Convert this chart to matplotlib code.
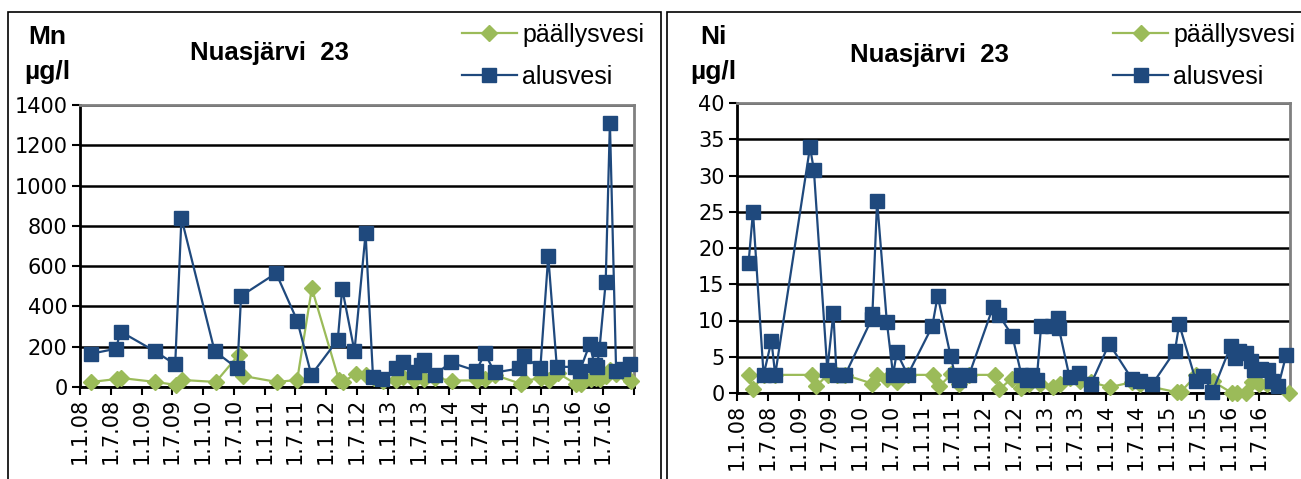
import pandas as pd
import matplotlib.pyplot as plt
import matplotlib.dates as mdates
from matplotlib.patches import Rectangle
from matplotlib.ticker import FuncFormatter

# tick labels in the wider DejaVu face, other texts in Liberation Sans
plt.rcParams['font.family'] = ['DejaVu Sans']
TXT = ['Liberation Sans', 'DejaVu Sans']

# Mn, Nuasjärvi 23
mn_ala_dates = ["2008-03-07", "2008-08-01", "2008-08-29", "2009-03-20", "2009-07-19", "2009-08-25",
                "2010-03-10", "2010-07-23", "2010-08-14", "2011-03-10", "2011-07-13", "2011-10-05",
                "2012-03-10", "2012-04-05", "2012-06-17", "2012-08-22", "2012-10-05", "2012-11-29",
                "2013-02-17", "2013-04-02", "2013-06-07", "2013-07-17", "2013-08-04", "2013-10-05",
                "2014-01-08", "2014-06-10", "2014-07-31", "2014-09-27", "2015-02-21", "2015-03-18",
                "2015-06-25", "2015-08-11", "2015-10-01", "2016-01-15", "2016-02-14", "2016-04-13",
                "2016-05-12", "2016-05-26", "2016-06-10", "2016-07-17", "2016-08-11", "2016-09-17",
                "2016-10-27", "2016-12-10"]
mn_ala = [165, 190, 275, 178, 112, 838, 178, 92, 452, 565, 330, 60,
          235, 488, 178, 763, 50, 38, 95, 122, 72, 108, 135, 58,
          122, 80, 168, 72, 92, 155, 92, 650, 100, 100, 80, 212,
          110, 100, 188, 520, 1313, 78, 88, 115]

mn_pal_dates = ["2008-03-07", "2008-08-10", "2008-08-29", "2009-03-24", "2009-07-26", "2009-08-28",
                "2010-03-17", "2010-07-31", "2010-08-25", "2011-03-14", "2011-07-13", "2011-10-08",
                "2012-03-17", "2012-04-09", "2012-06-25", "2012-08-25", "2012-10-08", "2012-12-03",
                "2013-02-17", "2013-04-02", "2013-06-07", "2013-08-04", "2013-10-05", "2014-01-15",
                "2014-06-14", "2014-07-31", "2014-09-27", "2015-03-04", "2015-03-22", "2015-06-29",
                "2015-08-15", "2015-10-05", "2016-01-22", "2016-02-21", "2016-04-20", "2016-05-19",
                "2016-06-13", "2016-07-20", "2016-08-11", "2016-09-17", "2016-10-27", "2016-12-17"]
mn_pal = [25, 40, 45, 25, 10, 35, 25, 160, 55, 25, 35, 490,
          35, 25, 65, 58, 45, 32, 35, 48, 35, 38, 45, 32,
          33, 38, 60, 15, 30, 45, 33, 70, 15, 17, 38, 45,
          38, 55, 85, 65, 72, 30]

# Ni, Nuasjärvi 23
ni_ala_dates = ["2008-03-10", "2008-04-05", "2008-06-07", "2008-07-24", "2008-08-15", "2009-03-10",
                "2009-04-02", "2009-06-21", "2009-07-27", "2009-08-15", "2009-10-05", "2010-03-12",
                "2010-03-16", "2010-04-13", "2010-06-10", "2010-07-17", "2010-08-08", "2010-10-12",
                "2011-03-07", "2011-04-08", "2011-06-24", "2011-07-20", "2011-08-11", "2011-10-12",
                "2012-03-03", "2012-04-05", "2012-06-25", "2012-08-18", "2012-09-20", "2012-10-20",
                "2012-11-17", "2012-12-13", "2013-02-17", "2013-03-22", "2013-03-29", "2013-05-31",
                "2013-07-28", "2013-10-05", "2014-01-22", "2014-06-07", "2014-07-24", "2014-10-05",
                "2015-02-17", "2015-03-14", "2015-06-21", "2015-08-04", "2015-09-27", "2016-01-15",
                "2016-02-10", "2016-03-03", "2016-04-17", "2016-05-16", "2016-06-03", "2016-07-10",
                "2016-08-22", "2016-09-17", "2016-10-24", "2016-12-10"]
ni_ala = [18.0, 25.0, 2.5, 7.2, 2.5, 33.9, 30.8, 3.2, 11.0, 2.5, 2.5, 10.2,
          10.9, 26.5, 9.8, 2.5, 5.6, 2.5, 9.2, 13.4, 5.1, 2.5, 1.8, 2.5,
          11.9, 10.8, 7.9, 2.5, 1.8, 2.5, 1.8, 9.2, 9.2, 10.3, 8.9, 2.2,
          2.7, 1.2, 6.8, 1.9, 1.6, 1.2, 5.8, 9.5, 1.7, 2.4, 0.1, 6.5,
          4.8, 5.8, 5.5, 4.4, 3.2, 3.3, 3.2, 1.7, 1.0, 5.3]

ni_pal_dates = ["2008-03-10", "2008-04-05", "2008-06-07", "2008-08-15", "2009-03-20", "2009-04-17",
                "2009-06-24", "2009-08-15", "2009-10-05", "2010-03-14", "2010-04-13", "2010-06-10",
                "2010-08-12", "2010-10-12", "2011-03-14", "2011-04-17", "2011-06-28", "2011-08-15",
                "2011-10-12", "2012-03-14", "2012-04-09", "2012-06-21", "2012-08-18", "2012-10-05",
                "2012-12-06", "2013-02-24", "2013-04-05", "2013-06-03", "2013-07-31", "2013-10-05",
                "2014-01-25", "2014-06-07", "2014-07-24", "2015-02-28", "2015-03-22", "2015-06-25",
                "2015-10-01", "2016-01-22", "2016-02-21", "2016-04-13", "2016-05-19", "2016-06-13",
                "2016-07-01", "2016-08-15", "2016-12-24"]
ni_pal = [2.5, 0.5, 2.5, 2.5, 2.5, 1.0, 2.5, 2.5, 2.5, 1.3, 2.5, 1.9,
          1.5, 2.5, 2.5, 0.9, 2.6, 1.2, 2.5, 2.5, 0.5, 2.0, 0.7, 1.3,
          1.2, 0.8, 1.3, 2.1, 1.6, 1.5, 0.8, 1.5, 1.2, 0.1, 0.1, 2.5,
          1.6, 0.0, 0.0, 0.0, 1.5, 1.6, 1.2, 1.2, 0.0]

W, H = 1301, 479
BLUE = "#1F497D"
GREEN = "#9BBB59"

fig = plt.figure(figsize=(13.01, 4.79), dpi=100)

# panel frames
fig.add_artist(Rectangle((8 / W, -0.1), 653 / W, 1.1 - 12 / H, transform=fig.transFigure,
                         fill=False, edgecolor="black", linewidth=1.2))
fig.add_artist(Rectangle((667 / W, -0.1), 640 / W, 1.1 - 12 / H, transform=fig.transFigure,
                         fill=False, edgecolor="black", linewidth=1.2))


def date_label(x, pos):
    d = mdates.num2date(x)
    if d.year >= 2017:
        return ""
    return f"{d.day}.{d.month}.{d.strftime('%y')}"


def make_panel(rect, ala_dates, ala, pal_dates, pal, ymax, ystep, elem, title, title_xy, elem_x, leg_x):
    ax = fig.add_axes(rect)
    ax.plot(pd.to_datetime(pal_dates), pal, color=GREEN, lw=1.6, marker="D", ms=8.5,
            markeredgecolor=GREEN, label="päällysvesi", clip_on=False, zorder=3)
    ax.plot(pd.to_datetime(ala_dates), ala, color=BLUE, lw=1.6, marker="s", ms=9.5,
            markeredgecolor=BLUE, label="alusvesi", clip_on=False, zorder=4)

    ax.set_xlim(pd.Timestamp("2008-01-01"), pd.Timestamp("2017-01-01"))
    ax.set_ylim(0, ymax)
    ax.set_yticks(range(0, ymax + 1, ystep))
    ax.xaxis.set_major_locator(mdates.MonthLocator(bymonth=[1, 7]))
    ax.xaxis.set_major_formatter(FuncFormatter(date_label))
    ax.tick_params(axis="x", direction="out", length=6, width=1.5, labelsize=15,
                   labelrotation=90, pad=2)
    ax.tick_params(axis="y", direction="out", length=6, width=1.5, labelsize=15, pad=3)

    ax.set_axisbelow(True)
    ax.yaxis.grid(True, color="black", linewidth=1.8)
    for s in ["left", "bottom"]:
        ax.spines[s].set_color("black")
        ax.spines[s].set_linewidth(2)
    for s in ["top", "right"]:
        ax.spines[s].set_color("#808080")
        ax.spines[s].set_linewidth(2)

    fig.text(title_xy[0] / W, 1 - title_xy[1] / H, title, ha="center", va="center",
             fontsize=18.5, fontweight="bold", family=TXT)
    fig.text(elem_x / W, 1 - 37 / H, elem, ha="center", va="center", fontsize=19,
             fontweight="bold", family=TXT)
    fig.text(elem_x / W, 1 - 72 / H, "µg/l", ha="center", va="center", fontsize=19,
             fontweight="bold", family=TXT)

    ax.legend(loc="upper left", bbox_to_anchor=(leg_x / W, 1 - 23 / H), bbox_transform=fig.transFigure,
              frameon=False, prop={"family": TXT, "size": 18}, handlelength=2.2, handletextpad=0.2,
              labelspacing=0.72, borderpad=0, borderaxespad=0)
    return ax


make_panel([80 / W, (H - 387) / H, 554 / W, 282 / H], mn_ala_dates, mn_ala, mn_pal_dates, mn_pal,
           1400, 200, "Mn", "Nuasjärvi  23", (269, 53), 47, 462)
make_panel([737 / W, (H - 393) / H, 553 / W, 290 / H], ni_ala_dates, ni_ala, ni_pal_dates, ni_pal,
           40, 5, "Ni", "Nuasjärvi  23", (929, 55), 713, 1113)

fig.savefig("out.png", dpi=100)
